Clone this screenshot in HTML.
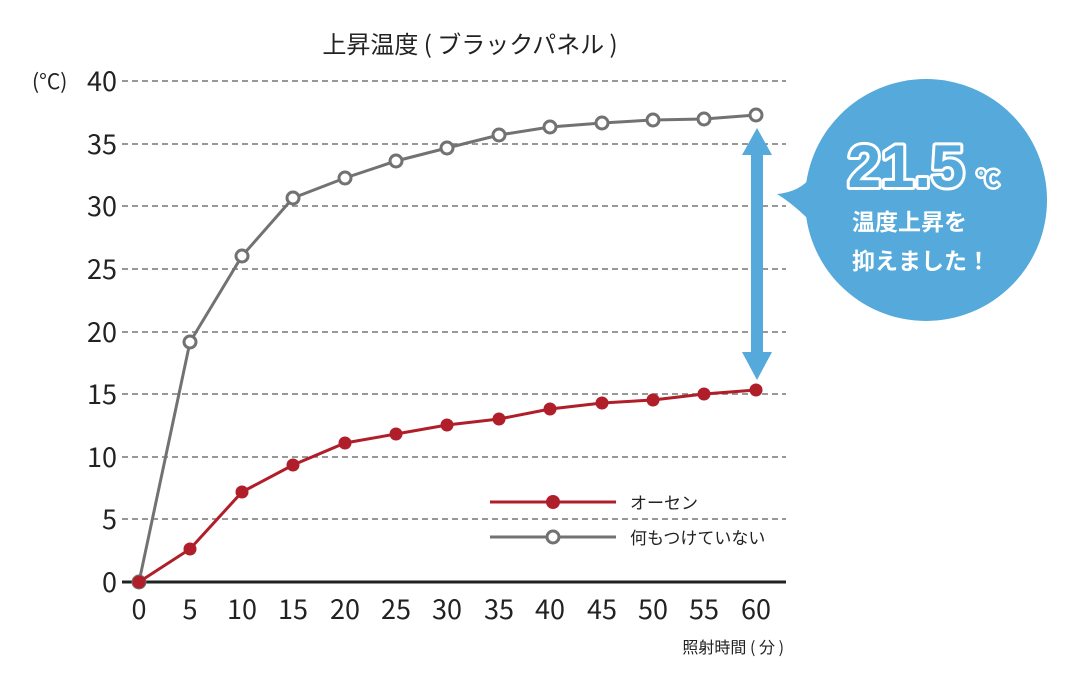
<!DOCTYPE html>
<html><head><meta charset="utf-8"><style>
html,body{margin:0;padding:0;background:#fff;}
svg{display:block;font-family:"Liberation Sans","Noto Sans CJK JP",sans-serif;}
.n{font-family:"Noto Sans CJK JP",sans-serif;}
</style></head><body>
<svg width="1080" height="682" viewBox="0 0 1080 682" xmlns="http://www.w3.org/2000/svg">
<text class="n" x="470" y="53" font-size="24" fill="#222" text-anchor="middle">上昇温度 ( ブラックパネル )</text>
<g stroke="#777" stroke-width="1.5" stroke-dasharray="6,4">
<line x1="122" y1="81" x2="786" y2="81"/><line x1="122" y1="144" x2="786" y2="144"/>
<line x1="122" y1="206" x2="786" y2="206"/><line x1="122" y1="269" x2="786" y2="269"/>
<line x1="122" y1="332" x2="786" y2="332"/><line x1="122" y1="394" x2="786" y2="394"/>
<line x1="122" y1="457" x2="786" y2="457"/><line x1="122" y1="519" x2="786" y2="519"/>
</g>
<line x1="122" y1="582" x2="786" y2="582" stroke="#222" stroke-width="3"/>
<g class="n" font-size="27" fill="#222" text-anchor="end">
<text x="117" y="91">40</text><text x="117" y="154">35</text><text x="117" y="216">30</text>
<text x="117" y="279">25</text><text x="117" y="342">20</text><text x="117" y="404">15</text>
<text x="117" y="467">10</text><text x="117" y="529">5</text><text x="117" y="592">0</text>
</g>
<text class="n" x="32" y="89" font-size="21" fill="#222">(°C)</text>
<g class="n" font-size="27" fill="#222" text-anchor="middle">
<text x="139" y="619">0</text><text x="190" y="619">5</text><text x="242" y="619">10</text>
<text x="293" y="619">15</text><text x="345" y="619">20</text><text x="396" y="619">25</text>
<text x="447" y="619">30</text><text x="499" y="619">35</text><text x="550" y="619">40</text>
<text x="602" y="619">45</text><text x="653" y="619">50</text><text x="704" y="619">55</text>
<text x="756" y="619">60</text>
</g>
<text class="n" x="784" y="653" font-size="16" fill="#222" text-anchor="end">照射時間 ( 分 )</text>
<polyline fill="none" stroke="#727272" stroke-width="3" points="139,582 190,342 242,256 293,198 345,178 396,161 447,148 499,135 550,127 602,123 653,120 704,119 756,115"/>
<g fill="#fff" stroke="#727272" stroke-width="3">
<circle cx="139" cy="582" r="6"/><circle cx="190" cy="342" r="6"/><circle cx="242" cy="256" r="6"/>
<circle cx="293" cy="198" r="6"/><circle cx="345" cy="178" r="6"/><circle cx="396" cy="161" r="6"/>
<circle cx="447" cy="148" r="6"/><circle cx="499" cy="135" r="6"/><circle cx="550" cy="127" r="6"/>
<circle cx="602" cy="123" r="6"/><circle cx="653" cy="120" r="6"/><circle cx="704" cy="119" r="6"/>
<circle cx="756" cy="115" r="6"/>
</g>
<polyline fill="none" stroke="#b01e2a" stroke-width="3" points="139,582 190,549 242,492 293,465 345,443 396,434 447,425 499,419 550,409 602,403 653,400 704,394 756,390"/>
<g fill="#b01e2a">
<circle cx="139" cy="582" r="6.5"/><circle cx="190" cy="549" r="6.5"/><circle cx="242" cy="492" r="6.5"/>
<circle cx="293" cy="465" r="6.5"/><circle cx="345" cy="443" r="6.5"/><circle cx="396" cy="434" r="6.5"/>
<circle cx="447" cy="425" r="6.5"/><circle cx="499" cy="419" r="6.5"/><circle cx="550" cy="409" r="6.5"/>
<circle cx="602" cy="403" r="6.5"/><circle cx="653" cy="400" r="6.5"/><circle cx="704" cy="394" r="6.5"/>
<circle cx="756" cy="390" r="6.5"/>
</g>
<line x1="490" y1="502" x2="616" y2="502" stroke="#b01e2a" stroke-width="3"/>
<circle cx="553" cy="502" r="7" fill="#b01e2a"/>
<text class="n" x="630" y="509" font-size="17" fill="#222">オーセン</text>
<line x1="490" y1="537" x2="616" y2="537" stroke="#727272" stroke-width="3"/>
<circle cx="553" cy="537" r="6" fill="#fff" stroke="#727272" stroke-width="3"/>
<text class="n" x="630" y="544" font-size="17" fill="#222">何もつけていない</text>
<g fill="#55a9db">
<rect x="751" y="150" width="12" height="210"/>
<polygon points="742,155 757,128 772,155"/>
<polygon points="742,352 757,380 772,352"/>
<circle cx="926" cy="200" r="121"/>
<path d="M777,194 Q800,192 812,176 L815,226 Q795,205 777,194 Z"/>
</g>
<text x="906" y="187" font-size="60" font-weight="bold" fill="#55a9db" stroke="#fff" stroke-width="6" stroke-linejoin="round" paint-order="stroke" text-anchor="middle">21.5</text>
<text x="988" y="187" font-size="22" font-weight="bold" fill="#55a9db" stroke="#fff" stroke-width="5" stroke-linejoin="round" paint-order="stroke" text-anchor="middle">℃</text>
<text class="n" x="852" y="230" font-size="23" font-weight="bold" fill="#fff">温度上昇を</text>
<text class="n" x="852" y="269" font-size="23" font-weight="bold" fill="#fff">抑えました！</text>
</svg>
</body></html>
